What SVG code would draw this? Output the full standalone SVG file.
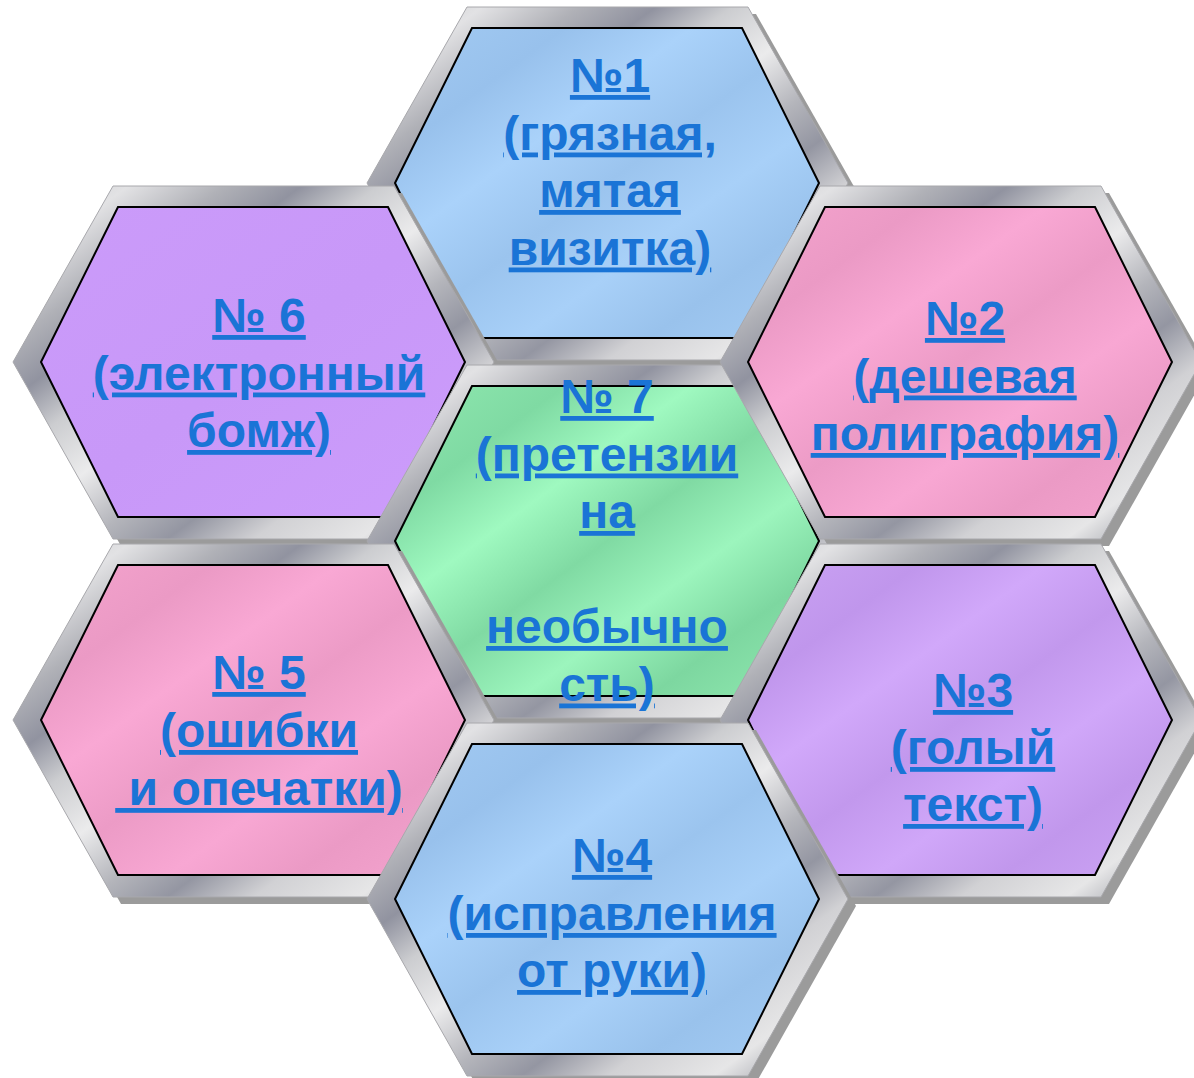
<svg xmlns="http://www.w3.org/2000/svg" xmlns:xlink="http://www.w3.org/1999/xlink" width="1194" height="1078" viewBox="0 0 1194 1078">
<style>
.shadow{fill:#9b9b9b;}
.frame{fill:url(#metal);stroke:#a8a8ac;stroke-width:1;}
.inner{stroke:#000;stroke-width:2;stroke-linejoin:miter;}
.lbl{font-family:"Liberation Sans",Arial,sans-serif;font-weight:bold;font-size:48px;fill:#1a74d6;text-anchor:middle;text-decoration:underline;text-decoration-skip-ink:none;}
</style>
<defs>
<linearGradient id="metal" x1="0" y1="0" x2="1" y2="1">
<stop offset="0" stop-color="#c3c4c8"/>
<stop offset="0.12" stop-color="#e2e2e4"/>
<stop offset="0.22" stop-color="#b0b1b7"/>
<stop offset="0.3" stop-color="#9193a0"/>
<stop offset="0.38" stop-color="#cccdd0"/>
<stop offset="0.48" stop-color="#ebebec"/>
<stop offset="0.58" stop-color="#b4b5bb"/>
<stop offset="0.66" stop-color="#9496a2"/>
<stop offset="0.75" stop-color="#d1d1d4"/>
<stop offset="0.86" stop-color="#e6e6e7"/>
<stop offset="0.94" stop-color="#a5a7ae"/>
<stop offset="1" stop-color="#c2c3c6"/>
</linearGradient>
<linearGradient id="gBlue" x1="0" y1="0" x2="1" y2="1">
<stop offset="0" stop-color="#a3cbf3"/>
<stop offset="0.2" stop-color="#98c1ec"/>
<stop offset="0.35" stop-color="#aad2fa"/>
<stop offset="0.5" stop-color="#9bc4ee"/>
<stop offset="0.65" stop-color="#a8d0f8"/>
<stop offset="0.8" stop-color="#99c2ec"/>
<stop offset="1" stop-color="#a5cdf5"/>
</linearGradient>
<linearGradient id="gPink" x1="0" y1="0" x2="1" y2="1">
<stop offset="0" stop-color="#f5a4ce"/>
<stop offset="0.2" stop-color="#eb9ac5"/>
<stop offset="0.35" stop-color="#f9a8d4"/>
<stop offset="0.5" stop-color="#ec9bc6"/>
<stop offset="0.65" stop-color="#f8a7d3"/>
<stop offset="0.8" stop-color="#eb9ac5"/>
<stop offset="1" stop-color="#f6a5d0"/>
</linearGradient>
<linearGradient id="gGreen" x1="0" y1="0" x2="1" y2="1">
<stop offset="0" stop-color="#90e9b0"/>
<stop offset="0.2" stop-color="#7fdaa3"/>
<stop offset="0.35" stop-color="#9ff9c0"/>
<stop offset="0.5" stop-color="#80daa3"/>
<stop offset="0.65" stop-color="#9cf5bd"/>
<stop offset="0.8" stop-color="#7dd7a0"/>
<stop offset="1" stop-color="#92ebb2"/>
</linearGradient>
<linearGradient id="gViolet" x1="0" y1="0" x2="1" y2="1">
<stop offset="0" stop-color="#cb9bfa"/>
<stop offset="0.5" stop-color="#c898f8"/>
<stop offset="1" stop-color="#cc9cfb"/>
</linearGradient>
<linearGradient id="gLilac" x1="0" y1="0" x2="1" y2="1">
<stop offset="0" stop-color="#cca4f5"/>
<stop offset="0.2" stop-color="#c096ec"/>
<stop offset="0.35" stop-color="#d1a8fa"/>
<stop offset="0.5" stop-color="#c298ed"/>
<stop offset="0.65" stop-color="#d0a7f9"/>
<stop offset="0.8" stop-color="#c197ec"/>
<stop offset="1" stop-color="#cda5f6"/>
</linearGradient>
<polygon id="outer" points="-140,-176 141,-176 241,0 141,177 -140,177 -240,0"/>
<polygon id="inner" points="-135,-155 135,-155 212,0 135,155 -135,155 -212,0"/>
</defs>
<g id="connectors"/>
<g id="node1" transform="translate(607,183)">
<use xlink:href="#outer" class="shadow" transform="translate(8,7)"/>
<use xlink:href="#outer" class="frame"/>
<use xlink:href="#inner" class="inner" fill="url(#gBlue)"/>
<text class="lbl" x="3" y="-91">№1</text>
<text class="lbl" x="3" y="-33.5">(грязная,</text>
<text class="lbl" x="3" y="24">мятая</text>
<text class="lbl" x="3" y="81.5">визитка)</text>
</g>
<g id="node6" transform="translate(253,362)">
<use xlink:href="#outer" class="shadow" transform="translate(8,7)"/>
<use xlink:href="#outer" class="frame"/>
<use xlink:href="#inner" class="inner" fill="url(#gViolet)"/>
<text class="lbl" x="6" y="-30">№ 6</text>
<text class="lbl" x="6" y="27.5">(электронный</text>
<text class="lbl" x="6" y="85">бомж)</text>
</g>
<g id="node7" transform="translate(607,541)">
<use xlink:href="#outer" class="shadow" transform="translate(8,7)"/>
<use xlink:href="#outer" class="frame"/>
<use xlink:href="#inner" class="inner" fill="url(#gGreen)"/>
<text class="lbl" x="0" y="-128">№ 7</text>
<text class="lbl" x="0" y="-70.5">(претензии</text>
<text class="lbl" x="0" y="-13">на</text>
<text class="lbl" x="0" y="102">необычно</text>
<text class="lbl" x="0" y="159.5">сть)</text>
</g>
<g id="node2" transform="translate(960,362)">
<use xlink:href="#outer" class="shadow" transform="translate(8,7)"/>
<use xlink:href="#outer" class="frame"/>
<use xlink:href="#inner" class="inner" fill="url(#gPink)"/>
<text class="lbl" x="5" y="-27">№2</text>
<text class="lbl" x="5" y="30.5">(дешевая</text>
<text class="lbl" x="5" y="88">полиграфия)</text>
</g>
<g id="node3" transform="translate(960,720)">
<use xlink:href="#outer" class="shadow" transform="translate(8,7)"/>
<use xlink:href="#outer" class="frame"/>
<use xlink:href="#inner" class="inner" fill="url(#gLilac)"/>
<text class="lbl" x="13" y="-13">№3</text>
<text class="lbl" x="13" y="44">(голый</text>
<text class="lbl" x="13" y="101">текст)</text>
</g>
<g id="node5" transform="translate(253,720)">
<use xlink:href="#outer" class="shadow" transform="translate(8,7)"/>
<use xlink:href="#outer" class="frame"/>
<use xlink:href="#inner" class="inner" fill="url(#gPink)"/>
<text class="lbl" x="6" y="-31">№ 5</text>
<text class="lbl" x="6" y="27">(ошибки</text>
<text class="lbl" x="6" y="85" xml:space="preserve"> и опечатки)</text>
</g>
<g id="node4" transform="translate(607,899)">
<use xlink:href="#outer" class="shadow" transform="translate(8,7)"/>
<use xlink:href="#outer" class="frame"/>
<use xlink:href="#inner" class="inner" fill="url(#gBlue)"/>
<text class="lbl" x="5" y="-27">№4</text>
<text class="lbl" x="5" y="31">(исправления</text>
<text class="lbl" x="5" y="88">от руки)</text>
</g>
</svg>
